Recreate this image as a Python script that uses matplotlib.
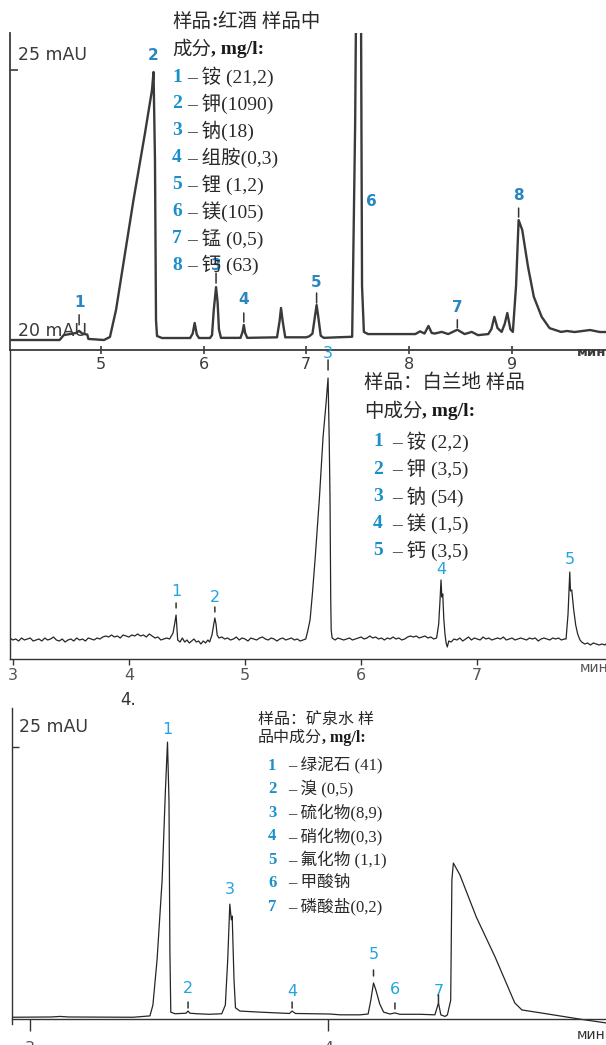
import matplotlib
matplotlib.use("Agg")
import matplotlib.pyplot as plt

W, H = 606, 1045

# ---------------- data: panel 1 (red wine) ----------------
wine_time = [4.113, 4.600, 4.640, 4.700, 4.760, 4.790, 4.820, 4.870, 4.880, 5.032,
             5.090, 5.149, 5.319, 5.431, 5.499, 5.514, 5.528, 5.538, 5.548, 5.596,
             5.870, 5.895, 5.914, 5.935, 5.956, 6.063, 6.083, 6.100, 6.122, 6.137,
             6.150, 6.170, 6.360, 6.380, 6.392, 6.405, 6.425, 6.715, 6.740, 6.754,
             6.770, 6.795, 7.000, 7.030, 7.060, 7.085, 7.100, 7.115, 7.140, 7.170,
             7.300, 7.446, 7.475, 7.484, 7.532, 7.542, 7.560, 7.600, 8.060, 8.106,
             8.150, 8.188, 8.220, 8.250, 8.317, 8.380, 8.469, 8.540, 8.609, 8.670,
             8.770, 8.800, 8.829, 8.860, 8.900, 8.930, 8.955, 8.985, 9.009, 9.040,
             9.065, 9.100, 9.157, 9.213, 9.289, 9.366, 9.478, 9.535, 9.610, 9.760,
             9.856, 9.915]
wine_signal = [20.00, 20.00, 20.09, 20.11, 20.13, 20.17, 20.12, 20.10, 20.02, 20.00,
               20.056, 20.556, 22.593, 23.833, 24.63, 24.963, 23.333, 20.37, 20.074, 20.037,
               20.037, 20.12, 20.315, 20.10, 20.037, 20.037, 20.09, 20.56, 20.98, 20.70,
               20.20, 20.04, 20.04, 20.15, 20.278, 20.13, 20.04, 20.05, 20.35, 20.593,
               20.35, 20.05, 20.05, 20.07, 20.12, 20.45, 20.648, 20.45, 20.08, 20.04,
               20.05, 20.06, 24.00, 26.20, 26.20, 21.00, 20.15, 20.11, 20.11, 20.16,
               20.12, 20.26, 20.13, 20.12, 20.15, 20.11, 20.19, 20.11, 20.15, 20.09,
               20.11, 20.20, 20.43, 20.22, 20.15, 20.30, 20.50, 20.20, 20.15, 21.00,
               22.22, 22.04, 21.35, 20.80, 20.43, 20.22, 20.15, 20.167, 20.148, 20.185,
               20.148, 20.148]
wine_peak_ids = ["1", "2", "3", "4", "5", "7", "8"]
wine_peak_times = [4.790, 5.514, 6.122, 6.392, 7.100, 8.469, 9.065]
wine_peak_tops = [20.17, 24.963, 20.98, 20.278, 20.648, 20.19, 22.22]
wine_legend = ["铵 (21,2)", "钾(1090)", "钠(18)", "组胺(0,3)", "锂 (1,2)",
               "镁(105)", "锰 (0,5)", "钙 (63)"]

# ---------------- data: panel 2 (brandy) ----------------
brandy_time = [
    2.975, 3.000, 3.025, 3.050, 3.075, 3.100, 3.125, 3.150, 3.175, 3.200,
    3.225, 3.250, 3.275, 3.300, 3.325, 3.350, 3.375, 3.400, 3.425, 3.450,
    3.475, 3.500, 3.525, 3.550, 3.575, 3.600, 3.625, 3.650, 3.675, 3.700,
    3.725, 3.750, 3.775, 3.800, 3.825, 3.850, 3.875, 3.900, 3.925, 3.950,
    3.975, 4.000, 4.025, 4.050, 4.075, 4.100, 4.125, 4.150, 4.175, 4.200,
    4.225, 4.250, 4.275, 4.300, 4.325, 4.350,
    4.380, 4.395, 4.406, 4.414, 4.420, 4.440, 4.460, 4.480, 4.500, 4.520,
    4.540, 4.560, 4.580, 4.600, 4.620, 4.640, 4.660, 4.680, 4.695, 4.715,
    4.730, 4.740, 4.750, 4.760, 4.775,
    4.800, 4.825, 4.850, 4.875, 4.900, 4.925, 4.950, 4.975, 5.000, 5.025,
    5.050, 5.075, 5.100, 5.125, 5.150, 5.175, 5.200, 5.225, 5.250, 5.275,
    5.300, 5.325, 5.350, 5.375, 5.400, 5.425, 5.450, 5.475, 5.500,
    5.523, 5.540, 5.560, 5.580, 5.603, 5.640, 5.672, 5.698, 5.715, 5.725,
    5.732, 5.738, 5.742, 5.750,
    5.775, 5.800, 5.825, 5.850, 5.875, 5.900, 5.925, 5.950, 5.975, 6.000,
    6.025, 6.050, 6.075, 6.100, 6.125, 6.150, 6.175, 6.200, 6.225, 6.250,
    6.275, 6.300, 6.325, 6.350, 6.375, 6.400, 6.425, 6.450, 6.475, 6.500,
    6.525, 6.550, 6.575, 6.600, 6.625,
    6.650, 6.668, 6.680, 6.688, 6.695, 6.703, 6.712, 6.722, 6.732, 6.742,
    6.755,
    6.775, 6.800, 6.825, 6.850, 6.875, 6.900, 6.925, 6.950, 6.975, 7.000,
    7.025, 7.050, 7.075, 7.100, 7.125, 7.150, 7.175, 7.200, 7.225, 7.250,
    7.275, 7.300, 7.325, 7.350, 7.375, 7.400, 7.425, 7.450, 7.475, 7.500,
    7.525, 7.550, 7.575, 7.600, 7.625, 7.650, 7.675, 7.700, 7.725, 7.750,
    7.765, 7.782, 7.797, 7.803, 7.814, 7.830, 7.848, 7.865, 7.885,
    7.900, 7.925, 7.950, 7.975, 8.000, 8.025, 8.050, 8.075, 8.100, 8.109]
brandy_signal = [
    0.1, -0.1, 0.0, -0.2, 0.1, -0.1, 0.0, 0.1, -0.2, -0.1,
    0.0, -0.2, 0.1, -0.1, 0.0, 0.2, -0.1, -0.2, 0.0, -0.3,
    -0.1, 0.0, -0.2, 0.1, -0.1, 0.0, -0.2, 0.1, 0.0, -0.1,
    0.1, 0.0, 0.2, 0.3, 0.2, 0.4, 0.2, 0.3, 0.1, 0.4,
    0.3, 0.2, 0.4, 0.3, 0.5, 0.3, 0.4, 0.2, 0.5, 0.3,
    0.1, 0.2, -0.1, 0.0, 0.1, 0.0,
    0.6, 1.6, 2.4, 1.0, -0.1, -0.3, 0.1, -0.3, -0.1, -0.4,
    -0.2, 0.0, -0.3, -0.2, -0.5, -0.2, -0.4, -0.1, -0.3, 0.4,
    1.4, 2.1, 1.5, 0.4, 0.1,
    0.2, 0.0, 0.1, -0.1, 0.0, 0.2, -0.1, 0.1, 0.0, -0.2,
    0.1, 0.0, -0.1, 0.1, 0.2, 0.0, -0.1, 0.1, 0.0, -0.2,
    0.0, 0.1, -0.1, 0.0, 0.1, -0.1, 0.0, -0.2, -0.1,
    0.0, 0.8, 1.9, 4.5, 7.9, 14.0, 20.2, 23.6, 26.1, 20.0,
    13.9, 4.0, 0.9, 0.1,
    -0.1, 0.1, 0.0, -0.1, 0.0, 0.1, -0.1, 0.0, 0.1, 0.2,
    0.0, 0.1, 0.3, 0.1, 0.2, 0.0, 0.1, -0.1, 0.1, 0.0,
    0.2, 0.0, 0.1, -0.1, 0.0, 0.2, 0.3, 0.2, 0.3, 0.1,
    0.2, 0.3, 0.1, 0.2, 0.0,
    0.1, 1.5, 4.0, 5.9, 4.2, 4.5, 2.0, 0.5, -0.4, -0.8,
    -0.2,
    -0.3, 0.0, -0.1, 0.1, -0.2, 0.0, 0.2, -0.1, 0.1, 0.0,
    -0.1, 0.2, 0.0, 0.1, -0.1, 0.0, 0.1, 0.0, 0.2, -0.1,
    0.0, 0.1, -0.1, 0.0, 0.1, 0.0, -0.1, 0.1, 0.0, 0.1,
    -0.2, 0.0, 0.1, 0.0, -0.1, 0.1, 0.0, 0.1, -0.1, 0.0,
    0.0, 2.5, 6.7, 4.8, 4.9, 3.0, 1.4, 0.5, -0.1,
    -0.3, -0.5, -0.4, -0.6, -0.4, -0.5, -0.6, -0.5, -0.6, -0.5]
brandy_peak_ids = ["1", "2", "3", "4", "5"]
brandy_peak_times = [4.406, 4.740, 5.715, 6.688, 7.797]
brandy_peak_tops = [2.4, 2.1, 26.1, 5.9, 6.7]
brandy_legend = ["铵 (2,2)", "钾 (3,5)", "钠 (54)", "镁 (1,5)", "钙 (3,5)"]

# ---------------- data: panel 3 (mineral water) ----------------
water_time = [2.938, 3.070, 3.100, 3.130, 3.345, 3.402, 3.412, 3.426, 3.443, 3.454,
              3.461, 3.466, 3.469, 3.472, 3.486, 3.523, 3.530, 3.536, 3.560, 3.600,
              3.643, 3.655, 3.663, 3.670, 3.675, 3.678, 3.684, 3.689, 3.704, 3.770,
              3.870, 3.879, 3.890, 4.006, 4.040, 4.107, 4.134, 4.143, 4.152, 4.160,
              4.173, 4.186, 4.207, 4.224, 4.240, 4.308, 4.358, 4.370, 4.378, 4.392,
              4.400, 4.411, 4.415, 4.420, 4.442, 4.497, 4.560, 4.626, 4.650, 4.720,
              4.845, 4.932]
water_signal = [19.995, 20.00, 20.01, 20.00, 19.995, 20.02, 20.22, 21.06, 22.54, 24.20,
                25.09, 24.00, 21.24, 20.09, 20.06, 20.07, 20.11, 20.07, 20.06, 20.05,
                20.06, 20.22, 21.06, 22.09, 21.80, 21.87, 20.70, 20.17, 20.11, 20.09,
                20.065, 20.11, 20.065, 20.055, 20.04, 20.04, 20.055, 20.31, 20.63, 20.50,
                20.24, 20.09, 20.055, 20.075, 20.05, 20.05, 20.04, 20.26, 20.04, 20.01,
                20.04, 20.31, 22.54, 22.85, 22.63, 21.85, 21.11, 20.26, 20.13, 20.07,
                19.96, 19.89]
water_peak_ids = ["1", "2", "3", "4", "5", "6", "7"]
water_peak_times = [3.461, 3.530, 3.670, 3.879, 4.152, 4.224, 4.370]
water_peak_tops = [25.09, 20.11, 22.09, 20.11, 20.63, 20.075, 20.26]
water_legend = ["绿泥石 (41)", "溴 (0,5)", "硫化物(8,9)", "硝化物(0,3)", "氟化物 (1,1)",
                "甲酸钠", "磷酸盐(0,2)"]

# ---------------- styling ----------------
SERIF_CJK = ["Liberation Serif", "Noto Sans CJK SC"]
SANS = ["DejaVu Sans"]
BLUE_LEG = "#1b8fca"
BLUE_P1 = "#2a86bf"
BLUE_P = "#22a4de"

fig = plt.figure(figsize=(W / 100, H / 100), dpi=100)
fig.patch.set_facecolor("white")
renderer = fig.canvas.get_renderer()


def rect(x0, y_top, x1, y_bot):
    return [x0 / W, 1 - y_bot / H, (x1 - x0) / W, (y_bot - y_top) / H]


def ftext(x, y, s, **kw):
    kw.setdefault("va", "center")
    kw.setdefault("ha", "left")
    return fig.text(x / W, 1 - y / H, s, **kw)


def seg_line(x, y, parts, size):
    for s, weight, color in parts:
        t = ftext(x, y, s, fontsize=size, fontweight=weight, color=color,
                  family=SERIF_CJK)
        x += t.get_window_extent(renderer).width


def style_axes(ax, color, lw):
    for side in ("top", "right"):
        ax.spines[side].set_visible(False)
    for side in ("left", "bottom"):
        ax.spines[side].set_color(color)
        ax.spines[side].set_linewidth(lw)
    ax.set_facecolor("none")


def peak_labels(ax, ids, times, tops, offs, dashes, color, weight, size):
    for pid, t, v, off, dash in zip(ids, times, tops, offs, dashes):
        ax.annotate(pid, xy=(t, v), xytext=(0, off), textcoords="offset pixels",
                    ha="center", va="center", color=color, fontsize=size,
                    fontweight=weight, family=SANS, annotation_clip=False)
        if dash is not None:
            lo, hi = dash
            ax.annotate("", xy=(t, v), xytext=(0, hi), textcoords="offset pixels",
                        arrowprops=dict(arrowstyle="-", color="#333333", lw=1.1,
                                        shrinkA=0, shrinkB=lo * 0.72),
                        annotation_clip=False)


# ================= panel 1 =================
ax1 = fig.add_axes(rect(9.5, 33, W, 350))
ax1.set_xlim(4.113, 9.915)
ax1.set_ylim(19.815, 25.685)
style_axes(ax1, "#3c3c3c", 1.3)
ax1.plot(wine_time, wine_signal, color="#3a3a3a", lw=1.7, solid_joinstyle="round")
ax1.set_xticks([5, 6, 7, 8, 9])
ax1.tick_params(axis="x", direction="inout", length=6, width=1.2, pad=2,
                labelsize=11.5, labelcolor="#3c3c3c", colors="#3c3c3c")
ax1.set_yticks([25])
ax1.tick_params(axis="y", direction="in", length=6, width=1.2, labelleft=False,
                colors="#3c3c3c")
peak_labels(ax1, wine_peak_ids, wine_peak_times, wine_peak_tops,
            [28, 16, 22, 25, 23, 22, 25],
            [(6, 16), None, (4, 14), (3, 12), (2, 12), (2, 10), (3, 12)],
            BLUE_P1, "bold", 11)
ftext(371, 202, "6", color=BLUE_P1, fontsize=11, fontweight="bold", family=SANS,
      ha="center")
ftext(18, 55, "25 mAU", fontsize=12.5, color="#3a3a3a", family=SANS)
ftext(18, 331, "20 mAU", fontsize=12.5, color="#3a3a3a", family=SANS)
ftext(W, 353, "мин", fontsize=9.5, color="#3a3a3a", fontweight="bold",
      family=SANS, ha="right")

seg_line(172, 22, [("样品", "normal", "#2a2a2a"), (":", "bold", "#2a2a2a"),
                   ("红酒 样品中", "normal", "#2a2a2a")], 14)
seg_line(172, 50, [("成分", "normal", "#2a2a2a"), (", mg/l:", "bold", "#1a1a1a")], 14)
for i, item in enumerate(wine_legend):
    y = 77 + i * 26.9
    ftext(172, y, str(i + 1), fontsize=14, fontweight="bold", color=BLUE_LEG,
          family=SERIF_CJK)
    ftext(187, y, "– " + item, fontsize=14, color="#2a2a2a", family=SERIF_CJK)

# ================= panel 2 =================
ax2 = fig.add_axes(rect(9.7, 350, W, 659.3))
ax2.set_xlim(2.973, 8.109)
ax2.set_ylim(-2.03, 28.9)
style_axes(ax2, "#333333", 1.0)
ax2.plot(brandy_time, brandy_signal, color="#262626", lw=0.9)
ax2.set_xticks([3, 4, 5, 6, 7])
ax2.tick_params(axis="x", direction="out", length=4.5, width=1.0, pad=2,
                labelsize=11.5, labelcolor="#555555", colors="#333333")
ax2.set_yticks([])
peak_labels(ax2, brandy_peak_ids, brandy_peak_times, brandy_peak_tops,
            [24, 21, 25, 10, 12],
            [(7, 12), (6, 11), (8, 18), None, None],
            BLUE_P, "normal", 11.5)
ftext(580, 668, "мин", fontsize=10, color="#555555", family=SANS)

seg_line(364, 383, [("样品：白兰地 样品", "normal", "#2a2a2a")], 14)
seg_line(364, 412, [("中成分", "normal", "#2a2a2a"), (", mg/l:", "bold", "#1a1a1a")], 14)
for i, item in enumerate(brandy_legend):
    y = 442 + i * 27.2
    ftext(373, y, str(i + 1), fontsize=14, fontweight="bold", color=BLUE_LEG,
          family=SERIF_CJK)
    ftext(392, y, "– " + item, fontsize=14, color="#2a2a2a", family=SERIF_CJK)

ftext(128, 700, "4.", fontsize=12, color="#333333", family=SANS, ha="center")

# ================= panel 3 =================
ax3 = fig.add_axes(rect(11.6, 708, W, 1030))
ax3.set_xlim(2.938, 4.932)
ax3.set_ylim(19.759, 25.722)
style_axes(ax3, "#333333", 1.0)
ax3.spines["bottom"].set_position(("data", 19.957))
ax3.spines["left"].set_bounds(19.87, 25.722)
ax3.plot(water_time, water_signal, color="#262626", lw=0.9)
ax3.set_xticks([3, 4])
ax3.tick_params(axis="x", direction="out", length=8.5, width=1.0, pad=7,
                labelsize=11.5, labelcolor="#555555", colors="#333333")
ax3.set_yticks([25])
ax3.tick_params(axis="y", direction="in", length=5, width=1.0, labelleft=False,
                colors="#333333")
peak_labels(ax3, water_peak_ids, water_peak_times, water_peak_tops,
            [13, 23, 15, 20, 28, 23, 11],
            [None, (3, 9), None, (3, 9), (7, 13), (4, 10), (0, 8)],
            BLUE_P, "normal", 11.5)
ftext(18.6, 727, "25 mAU", fontsize=12.5, color="#3a3a3a", family=SANS)
ftext(W, 1035, "мин", fontsize=10, color="#333333", family=SANS, ha="right")

seg_line(258, 720, [("样品：矿泉水 样", "normal", "#2a2a2a")], 11.5)
seg_line(258, 738, [("品中成分", "normal", "#2a2a2a"), (", mg/l:", "bold", "#1a1a1a")], 11.5)
for i, item in enumerate(water_legend):
    y = 766 + i * 23.45
    ftext(268, y, str(i + 1), fontsize=12, fontweight="bold", color=BLUE_LEG,
          family=SERIF_CJK)
    ftext(288, y, "– " + item, fontsize=12, color="#2a2a2a", family=SERIF_CJK)

fig.savefig("out.png", dpi=100)
